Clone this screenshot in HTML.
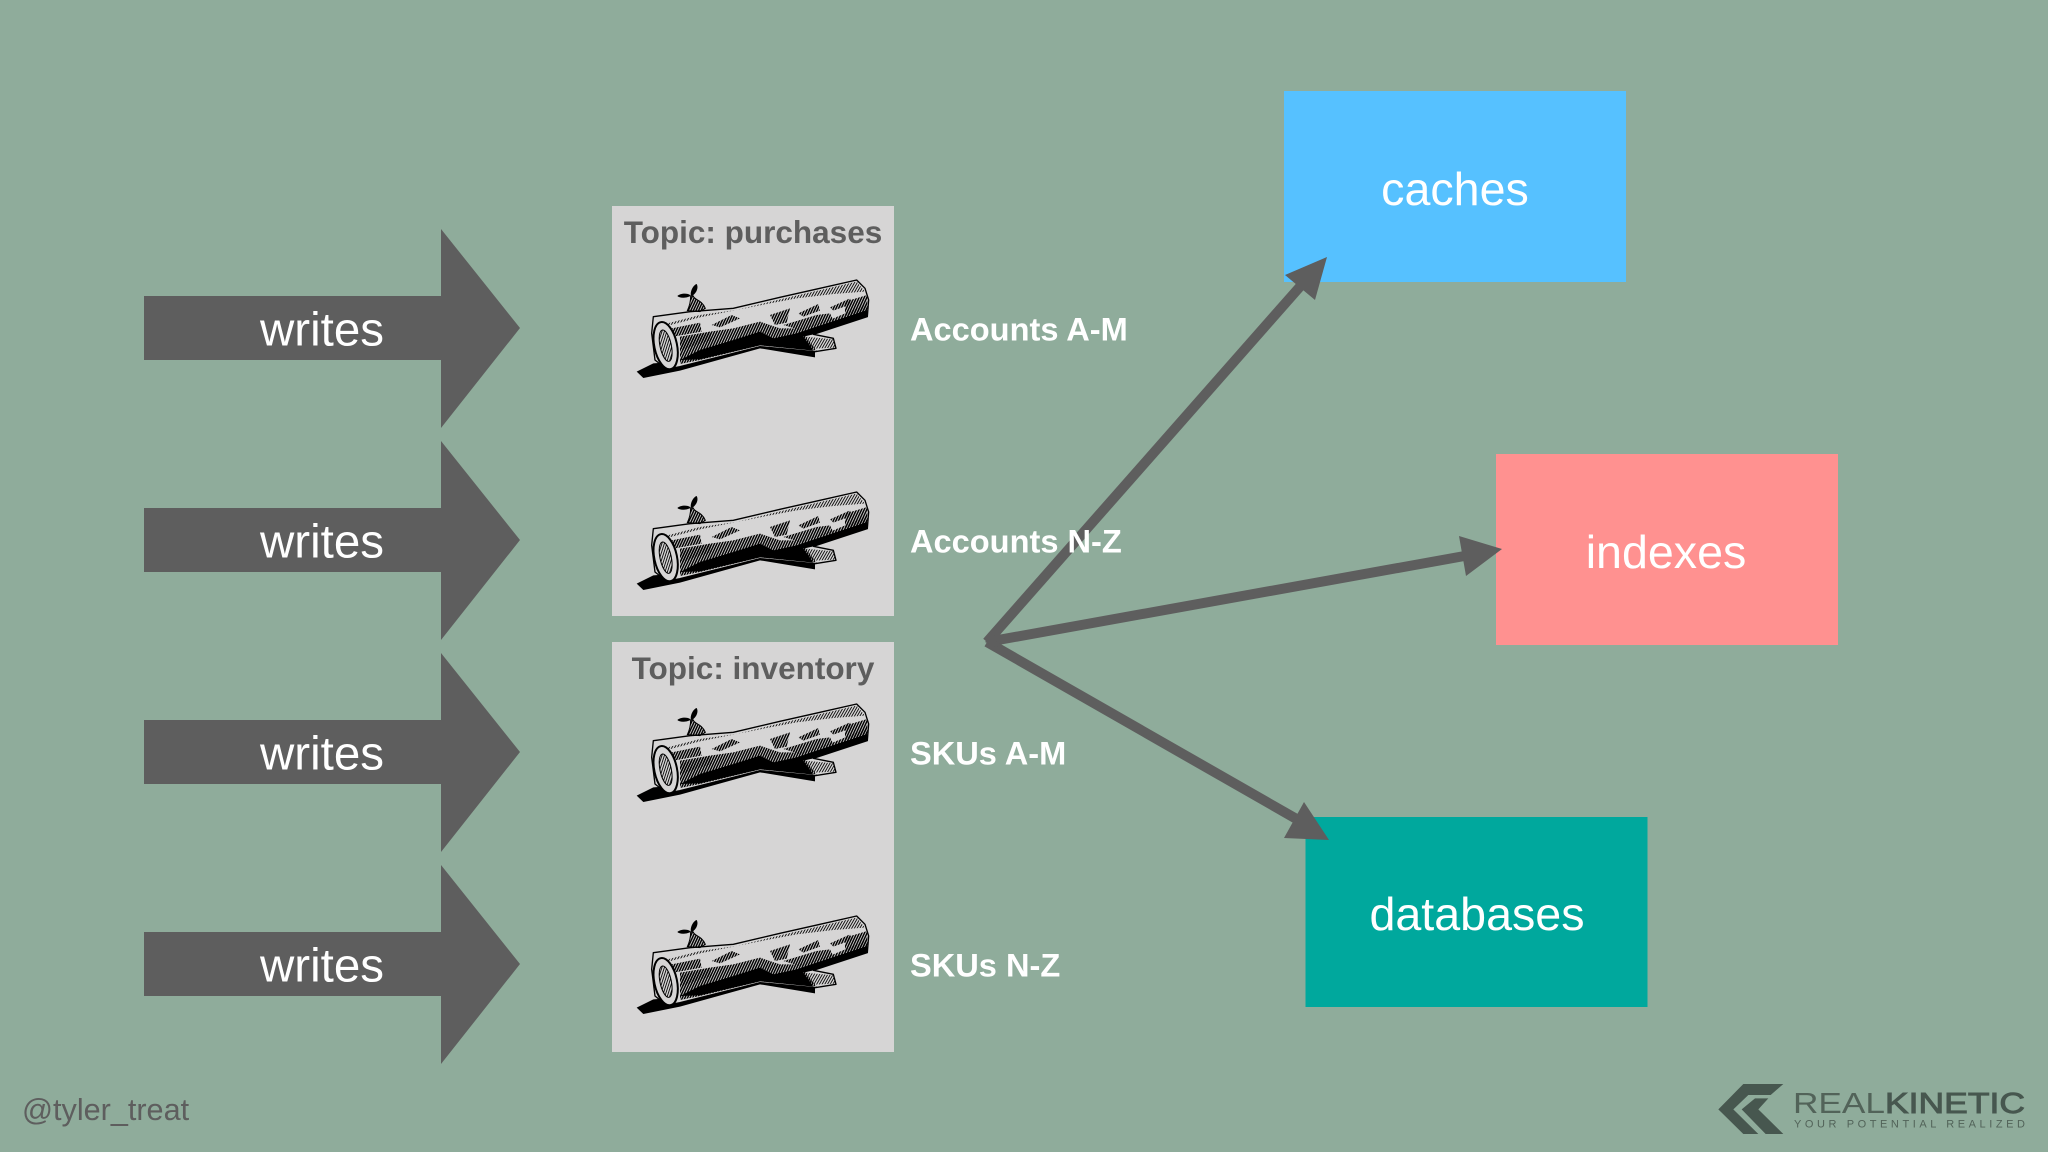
<!DOCTYPE html>
<html>
<head>
<meta charset="utf-8">
<style>
html,body{margin:0;padding:0;background:#8fac9b;width:2048px;height:1152px;overflow:hidden}
svg{display:block}
text{font-family:"Liberation Sans",Arial,sans-serif}
</style>
</head>
<body>
<svg width="2048" height="1152" viewBox="0 0 2048 1152" xmlns="http://www.w3.org/2000/svg">
<defs>
<pattern id="h1" width="7" height="7" patternUnits="userSpaceOnUse" patternTransform="rotate(25)">
<rect width="4.4" height="7" fill="#000"/>
</pattern>
<pattern id="h2" width="7" height="7" patternUnits="userSpaceOnUse" patternTransform="rotate(30)">
<rect width="2.6" height="7" fill="#000"/>
</pattern>
<g id="log">
<path d="M110 515 L160 490 L300 480 L480 432 L645 452 L645 472 L480 445 L240 512 L130 534 Z" fill="#000"/>
<path d="M160 350 L270 335 L400 325 L540 292 L660 265 L770 240 L795 265 L806 300 L802 350 L640 403 L700 415 L708 445 L645 455 L480 440 L240 500 L200 508 L165 480 L155 400 Z" fill="#d6d5d5" stroke="#000" stroke-width="4" stroke-linejoin="round"/>
<path d="M240 492 L240 410 L330 395 L400 385 L480 365 L540 385 L610 385 L700 355 L802 312 L802 350 L640 403 L615 408 L650 452 L480 436 L300 480 Z" fill="url(#h1)"/>
<path d="M240 480 L300 450 L400 420 L480 395 L520 415 L590 400 L650 380 L802 330 L802 350 L640 403 L610 410 L640 452 L480 436 L300 478 Z" fill="#000"/>
<path d="M195 372 L300 345 L410 330 L540 298 L770 245 L795 275 L700 282 L590 295 L500 312 L400 332 L300 352 L200 378 Z" fill="url(#h2)"/>
<path d="M335 375 L395 345 L420 355 L360 382 Z M510 345 L570 325 L560 368 L525 375 Z M595 340 L655 312 L660 332 L610 350 Z M690 322 L750 295 L755 312 L700 332 Z M215 385 L300 368 L305 395 L220 410 Z" fill="url(#h1)"/>
<path d="M735 305 L802 285 L802 330 L735 350 Z M550 375 L650 345 L690 340 L700 360 L600 390 Z M240 420 L330 395 L335 420 L245 450 Z" fill="url(#h1)"/>
<path d="M615 410 L700 418 L706 443 L645 446 L610 432 Z" fill="url(#h2)"/>
<ellipse cx="197" cy="437" rx="34" ry="72" transform="rotate(-12 197 437)" fill="#d6d5d5" stroke="#000" stroke-width="6"/>
<ellipse cx="197" cy="437" rx="17" ry="48" transform="rotate(-12 197 437)" fill="url(#h2)" stroke="#000" stroke-width="3"/>
<path d="M262 332 C270 315 272 300 272 288 L280 288 C282 300 305 298 316 325 L300 335 Z" fill="url(#h1)" stroke="#000" stroke-width="3"/>
<path d="M272 288 C255 296 238 294 232 288 C240 280 262 278 272 286 Z M272 284 C272 268 282 254 290 252 C297 264 288 282 275 288 Z" fill="#000"/>
</g>
<g id="ba">
<path d="M144 296 H441 V229 L520 328 L441 428 V360 H144 Z" fill="#5e5e5e"/>
<text x="322" y="345.5" font-size="47.5" fill="#fff" text-anchor="middle">writes</text>
</g>
</defs>
<rect width="2048" height="1152" fill="#8fac9b"/>

<!-- write arrows -->
<use href="#ba"/>
<use href="#ba" y="212"/>
<use href="#ba" y="424"/>
<use href="#ba" y="636"/>

<!-- topic boxes -->
<rect x="612" y="206" width="282" height="410" fill="#d6d5d5"/>
<rect x="612" y="642" width="282" height="410" fill="#d6d5d5"/>
<text x="753" y="243" font-size="31.5" font-weight="bold" fill="#5e5e5e" text-anchor="middle">Topic: purchases</text>
<text x="753" y="679" font-size="31.5" font-weight="bold" fill="#5e5e5e" text-anchor="middle">Topic: inventory</text>

<!-- logs -->
<g transform="translate(600 200) scale(.33333)"><use href="#log"/></g>
<g transform="translate(600 412) scale(.33333)"><use href="#log"/></g>
<g transform="translate(600 624) scale(.33333)"><use href="#log"/></g>
<g transform="translate(600 836) scale(.33333)"><use href="#log"/></g>

<!-- destination boxes -->
<rect x="1284" y="91" width="342" height="191" fill="#56c1ff"/>
<rect x="1496" y="454" width="342" height="191" fill="#ff9190"/>
<rect x="1305.5" y="817" width="342" height="190" fill="#00a89d"/>
<g font-size="46.6" fill="#fff" text-anchor="middle">
<text x="1455" y="205">caches</text>
<text x="1666" y="568">indexes</text>
<text x="1477" y="930">databases</text>
</g>

<!-- fan-out arrows -->
<g stroke="#5e5e5e" stroke-width="10" fill="none">
<path d="M987 642 L1305 281"/>
<path d="M987 642 L1470 555"/>
<path d="M987 642 L1300 821"/>
</g>
<g fill="#5e5e5e">
<polygon points="1327,257 1285,275 1315,300"/>
<polygon points="1502,549 1459,536 1466,576"/>
<polygon points="1329,840 1304,802 1284,838"/>
<polygon points="985,642 993,634 998,648"/>
</g>

<!-- partition labels (drawn over the connectors) -->
<g font-size="32.6" font-weight="bold" fill="#fff">
<text x="910" y="340.5">Accounts A-M</text>
<text x="910" y="552.5">Accounts N-Z</text>
<text x="910" y="764.5">SKUs A-M</text>
<text x="910" y="976.5">SKUs N-Z</text>
</g>

<!-- footer -->
<text x="22" y="1120" font-size="30.6" fill="#5e5e5e">@tyler_treat</text>
<g transform="translate(1700 1060) scale(.33333)" fill="#47574f">
<polygon points="55,148 130,72 250,72 212,105 145,105 100,148 175,222 130,222"/>
<polygon points="125,148 165,115 205,115 175,148 250,222 197,222"/>
</g>
<text x="1793" y="1113" font-size="29" fill="#526359" textLength="92" lengthAdjust="spacingAndGlyphs">REAL</text>
<text x="1885" y="1113" font-size="29" fill="#47574f" stroke="#47574f" stroke-width=".9" textLength="140" lengthAdjust="spacingAndGlyphs">KINETIC</text>
<text x="1794" y="1127.5" font-size="11" fill="#526359" textLength="231">YOUR POTENTIAL REALIZED</text>
</svg>
</body>
</html>
